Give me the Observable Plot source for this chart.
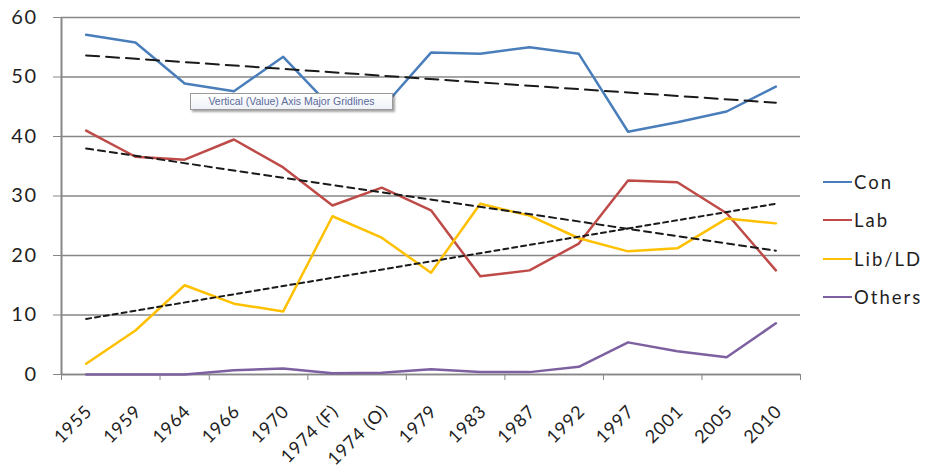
<!DOCTYPE html>
<html><head><meta charset="utf-8">
<script src="https://cdn.jsdelivr.net/npm/d3@7"></script>
<script src="https://cdn.jsdelivr.net/npm/@observablehq/plot@0.6"></script>
<style>
body{margin:0;background:#fff;}
#wrap{position:relative;width:930px;height:472px;font-family:Lato,"Open Sans",sans-serif;color:#1f1f1f;}
#wrap svg{position:absolute;left:0;top:0;}
.leg{position:absolute;left:823px;font-size:18.5px;letter-spacing:2px;line-height:20px;display:flex;align-items:center;}
.leg span.sw{display:inline-block;width:29px;height:2.5px;margin-right:2px;}
#tip{position:absolute;left:190px;top:93px;width:201px;height:15px;background:linear-gradient(#ffffff,#eef1f7);border:1px solid #9a9a9a;box-shadow:2px 2px 2px rgba(0,0,0,0.35);font-family:"Liberation Sans",sans-serif;font-size:10.5px;line-height:15px;color:#5a6a9a;text-align:center;white-space:nowrap;overflow:hidden;}
.ylab text{letter-spacing:1.5px;}
.xlab text{letter-spacing:0.8px;}
</style></head><body><div id="wrap"></div>
<script>
const categories = ["1955","1959","1964","1966","1970","1974 (F)","1974 (O)","1979","1983","1987","1992","1997","2001","2005","2010"];
const con    = [57.1,55.8,48.9,47.6,53.4,44.7,44.7,54.1,53.9,55.0,53.9,40.8,42.4,44.2,48.4];
const lab    = [41.0,36.6,36.1,39.5,34.8,28.4,31.4,27.6,16.5,17.5,22.0,32.6,32.3,27.1,17.5];
const libld  = [1.8,7.4,15.0,11.9,10.6,26.6,23.0,17.1,28.7,26.7,22.9,20.7,21.2,26.2,25.4];
const others = [0,0,0,0.7,1.0,0.2,0.3,0.9,0.4,0.4,1.3,5.4,3.9,2.9,8.6];
const parties = ["Con","Lab","Lib/LD","Others"];
const colors  = ["#4A7EBB","#BE4B48","#FFC000","#7D60A0"];
const yTicks = [0,10,20,30,40,50,60];
const tickBoundaries = [-0.5,1.5,2.5,4.5,6.5,8.5,10.5,12.5,14.5];
const trendParties = ["Con","Lab","Lib/LD"];
const trendDash = ["13,7","7,5","5,4"];

const series = [con,lab,libld,others];
const rows = [];
parties.forEach((p,k)=>series[k].forEach((v,i)=>rows.push({i, party:p, value:v})));

const trends = trendParties.map((p,k)=>Plot.linearRegressionY(rows.filter(d=>d.party===p),
  {x:"i", y:"value", ci:0, stroke:"#1a1a1a", strokeWidth:2, strokeDasharray:trendDash[k]}));

const chart = Plot.plot({
  width:930, height:472,
  marginLeft:61, marginRight:130, marginTop:17, marginBottom:98,
  style:{fontFamily:"Lato, 'Open Sans', sans-serif", fontSize:"17px", color:"#1f1f1f", background:"transparent"},
  x:{type:"linear", domain:[-0.5,14.5]},
  y:{domain:[0,60]},
  color:{domain:parties, range:colors},
  marks:[
    Plot.gridY(yTicks,{stroke:"#878787", strokeOpacity:1, strokeWidth:1.5}),
    Plot.ruleY([0],{stroke:"#878787", strokeWidth:1.5}),
    Plot.ruleX([-0.5],{stroke:"#878787", strokeWidth:2}),
    Plot.axisY({ticks:yTicks, tickSize:8, tickPadding:16, stroke:"#878787", fill:"#1f1f1f", label:null, fontSize:20, className:"ylab"}),
    Plot.axisX({ticks:tickBoundaries, tickSize:6, tickFormat:()=>"", stroke:"#878787", label:null}),
    Plot.axisX({ticks:d3.range(categories.length), tickSize:0, tickRotate:-45, tickPadding:34, dx:3, tickFormat:i=>categories[i], fill:"#1f1f1f", label:null, fontSize:18, className:"xlab"}),
    Plot.lineY(rows,{x:"i", y:"value", z:"party", stroke:"party", strokeWidth:2.5}),
    ...trends
  ]
});
const wrap = document.getElementById("wrap");
wrap.appendChild(chart);

const legTops = [172,210,249,287];
parties.forEach((p,k)=>{
  const d = document.createElement("div");
  d.className = "leg";
  d.style.top = legTops[k] + "px";
  d.innerHTML = `<span class="sw" style="background:${colors[k]}"></span>${p}`;
  wrap.appendChild(d);
});
const tip = document.createElement("div");
tip.id = "tip";
tip.textContent = "Vertical (Value) Axis Major Gridlines";
wrap.appendChild(tip);
</script>
</body></html>
